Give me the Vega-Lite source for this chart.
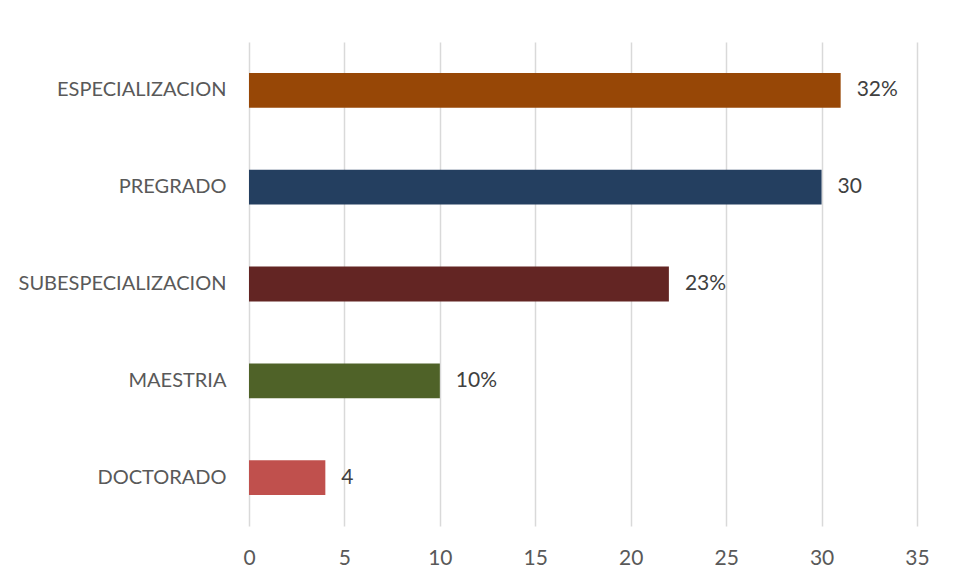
{
  "$schema": "https://vega.github.io/schema/vega-lite/v6.json",
  "width": 668,
  "height": 484,
  "autosize": {"type": "none"},
  "padding": {"left": 249, "top": 42, "right": 38, "bottom": 51},
  "background": "white",
  "data": {
    "values": [
      {"nivel": "ESPECIALIZACION", "valor": 31, "etiqueta": "32%", "color": "#974706"},
      {"nivel": "PREGRADO", "valor": 30, "etiqueta": "30", "color": "#243F60"},
      {"nivel": "SUBESPECIALIZACION", "valor": 22, "etiqueta": "23%", "color": "#632523"},
      {"nivel": "MAESTRIA", "valor": 10, "etiqueta": "10%", "color": "#4F6228"},
      {"nivel": "DOCTORADO", "valor": 4, "etiqueta": "4", "color": "#C0504D"}
    ]
  },
  "encoding": {
    "y": {
      "field": "nivel",
      "type": "nominal",
      "sort": null,
      "scale": {"paddingInner": 0.64, "paddingOuter": 0.32},
      "axis": {
        "title": null,
        "domain": false,
        "ticks": false,
        "labelPadding": 23,
        "labelLimit": 0,
        "labelFont": "Lato",
        "labelFontSize": 20,
        "labelColor": "#595959"
      }
    },
    "x": {
      "field": "valor",
      "type": "quantitative",
      "scale": {"domain": [0, 35], "nice": false},
      "axis": {
        "title": null,
        "values": [0, 5, 10, 15, 20, 25, 30, 35],
        "domain": false,
        "ticks": false,
        "grid": true,
        "gridColor": "#d9d9d9",
        "gridWidth": 1.5,
        "labelPadding": 21,
        "labelFont": "Lato",
        "labelFontSize": 21,
        "labelColor": "#595959",
        "labelFlush": false
      }
    }
  },
  "layer": [
    {
      "mark": {"type": "bar"},
      "encoding": {
        "color": {"field": "color", "type": "nominal", "scale": null, "legend": null}
      }
    },
    {
      "mark": {"type": "text", "align": "left", "baseline": "middle", "dx": 16, "font": "Lato", "fontSize": 21, "color": "#404040"},
      "encoding": {
        "text": {"field": "etiqueta"}
      }
    }
  ],
  "config": {"view": {"stroke": null}}
}
